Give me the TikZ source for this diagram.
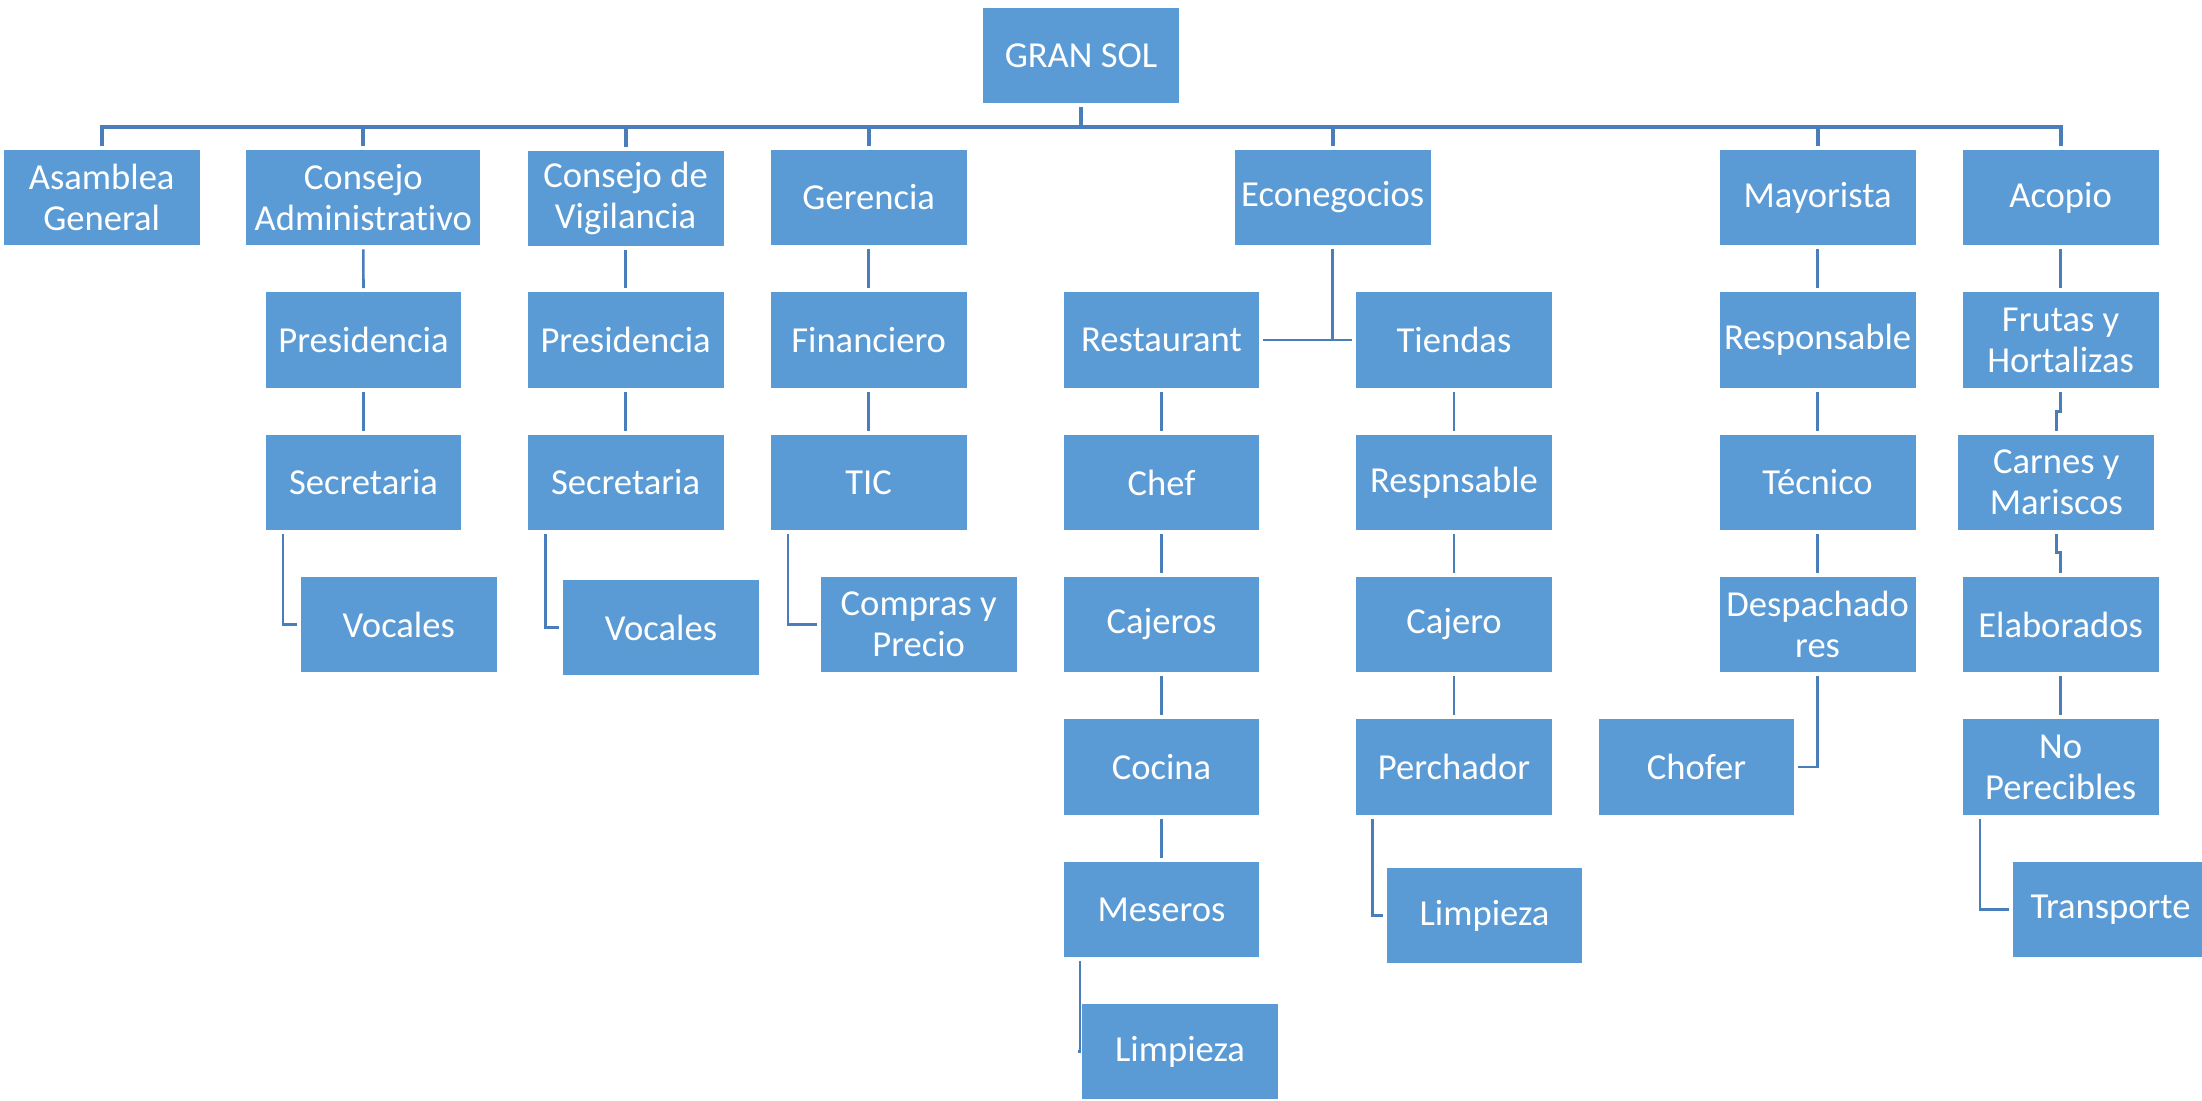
\documentclass[tikz,border=0pt]{standalone}
\usepackage{fontspec}
\setmainfont{Carlito}[Ligatures=NoCommon]
\usetikzlibrary{calc,backgrounds}
\definecolor{boxblue}{HTML}{5B9BD5}
\definecolor{lineblue}{HTML}{4A7EBB}
\tikzset{
  box/.style={rectangle, fill=boxblue, draw=white, line width=0.6pt,
    minimum width=98.5pt, minimum height=48.5pt, text=white, align=center,
    inner sep=1pt, font=\fontsize{18.3}{20.5}\selectfont},
  conn/.style={draw=lineblue, line width=1.3pt, shorten <=1.4pt, shorten >=1.4pt},
  busline/.style={draw=lineblue, line width=1.9pt, shorten <=1.4pt, shorten >=1.4pt}
}
\begin{document}
\begin{tikzpicture}[x=0.5pt,y=-0.5pt]
\useasboundingbox (0,0) rectangle (2202,1100);
\clip (0,0) rectangle (2202,1100);
% level 0
\node[box] (gs) at (1081,55.5) {GRAN SOL};
% level 1
\node[box] (ag) at (101.7,197.5) {Asamblea\\General};
\node[box, minimum width=117.5pt] (ca) at (363.3,197.5) {Consejo\\Administrativo};
\node[box] (cv) at (625.6,198.5) {Consejo de\\Vigilancia};
\node[box] (ge) at (868.7,197.5) {Gerencia};
\node[box] (ec) at (1332.7,197.5) {Econegocios};
\node[box] (ma) at (1817.6,197.5) {Mayorista};
\node[box] (ac) at (2060.6,197.5) {Acopio};
% level 2
\node[box] (pca) at (363.5,340) {Presidencia};
\node[box] (pcv) at (625.6,340) {Presidencia};
\node[box] (fin) at (868.7,340) {Financiero};
\node[box] (res) at (1161.5,340) {Restaurant};
\node[box] (tie) at (1454,340) {Tiendas};
\node[box] (rsp) at (1817.6,340) {Responsable};
\node[box] (fru) at (2060.6,340) {Frutas y\\Hortalizas};
% level 3
\node[box] (sca) at (363.5,482.5) {Secretaria};
\node[box] (scv) at (625.6,482.5) {Secretaria};
\node[box] (tic) at (868.7,482.5) {TIC};
\node[box] (chef) at (1161.5,482.5) {Chef};
\node[box] (rsn) at (1454,482.5) {Respnsable};
\node[box] (tec) at (1817.6,482.5) {Técnico};
\node[box] (car) at (2056.3,482.5) {Carnes y\\Mariscos};
% level 4
\node[box] (vca) at (398.8,624.5) {Vocales};
\node[box] (vcv) at (661,627.5) {Vocales};
\node[box] (com) at (918.7,624.5) {Compras y\\Precio};
\node[box] (caj) at (1161.5,624.5) {Cajeros};
\node[box] (cjr) at (1454,624.5) {Cajero};
\node[box] (des) at (1817.6,624.5) {Despachado\\res};
\node[box] (ela) at (2060.6,624.5) {Elaborados};
% level 5
\node[box] (coc) at (1161.5,767) {Cocina};
\node[box] (per) at (1454,767) {Perchador};
\node[box] (cho) at (1696.5,767) {Chofer};
\node[box] (nop) at (2060.6,767) {No\\Perecibles};
% level 6
\node[box] (mes) at (1161.5,909.5) {Meseros};
\node[box] (lit) at (1484.5,915.5) {Limpieza};
\node[box] (tra) at (2110.5,909.5) {Transporte};
% level 7
\node[box] (lir) at (1180,1051.5) {Limpieza};

\coordinate (bus) at (0,126.7);
\coordinate (jogA) at (0,411.7);
\coordinate (jogB) at (0,552.7);

\begin{pgfonlayer}{background}
\fill[white] (0,0) rectangle (2202,1100);
% bus connectors
\foreach \c in {ag,ca,cv,ge,ec,ma,ac}
  \draw[busline] (gs.south) -- (gs.south |- bus) -| (\c.north);
% straight verticals
\foreach \a/\b in {ca/pca,pca/sca,cv/pcv,pcv/scv,ge/fin,fin/tic,
                   res/chef,chef/caj,caj/coc,coc/mes,
                   tie/rsn,rsn/cjr,cjr/per,
                   ma/rsp,rsp/tec,tec/des,
                   ac/fru,ela/nop}
  \draw[conn] (\a.south) -- (\b.north);
% econegocios split
\draw[conn, shorten >=0pt] (ec.south) -- (ec.south |- res.east);
\draw[conn] (res.east) -- (tie.west);
% jogs in Acopio column
\draw[conn] (fru.south) -- (fru.south |- jogA) -- (car.north |- jogA) -- (car.north);
\draw[conn] (car.south) -- (car.south |- jogB) -- (ela.north |- jogB) -- (ela.north);
% elbows
\draw[conn] ($(sca.south west)+(18.4,0)$) |- (vca.west);
\draw[conn] ($(scv.south west)+(18.7,0)$) |- (vcv.west);
\draw[conn] ($(tic.south west)+(18.3,0)$) |- (com.west);
\draw[conn] ($(mes.south west)+(17.5,0)$) |- (lir.west);
\draw[conn] ($(per.south west)+(17.8,0)$) |- (lit.west);
\draw[conn] ($(nop.south west)+(18.5,0)$) |- (tra.west);
\draw[conn] (des.south) |- (cho.east);
\end{pgfonlayer}
\end{tikzpicture}
\end{document}
